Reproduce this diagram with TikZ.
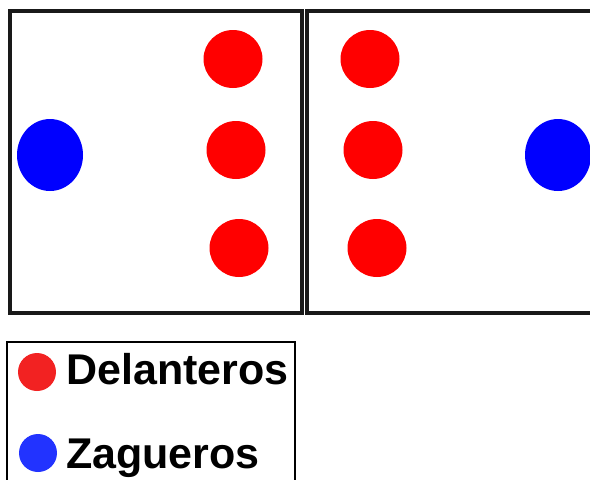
\documentclass[tikz,border=0pt]{standalone}
\usepackage{fontspec}
\setmainfont{Liberation Sans}
\usetikzlibrary{shapes.geometric}
\begin{document}
\begin{tikzpicture}[x=1pt,y=-1pt,
  field/.style={draw=black!90,line width=3.2pt,fill=white},
  fwd/.style={ellipse,fill=red,minimum width=59pt,minimum height=58pt,inner sep=0pt},
  back/.style={ellipse,fill=blue,minimum width=66pt,minimum height=72pt,inner sep=0pt},
  legdot/.style={circle,minimum size=38pt,inner sep=0pt},
  legtxt/.style={anchor=base west,inner sep=0pt,font=\bfseries\fontsize{43pt}{43pt}\selectfont}
]
\useasboundingbox (0,0) rectangle (590,480);
\begin{scope}
\clip (0,0) rectangle (590,480);
\fill[white] (0,0) rectangle (590,480);
\draw[field] (10,11) rectangle (302,313);
\draw[field] (307,11) rectangle (600,313);
\node[fwd] (f1) at (233,59) {};
\node[fwd] (f2) at (236,150) {};
\node[fwd] (f3) at (239,248) {};
\node[back] (b1) at (50,155) {};
\node[fwd] (g1) at (370,59) {};
\node[fwd] (g2) at (373,150) {};
\node[fwd] (g3) at (377,248) {};
\node[back] (b2) at (558,155) {};
\draw[line width=2.2pt] (7,342) rectangle (295,500);
\node[legdot,fill={rgb,255:red,242;green,34;blue,34}] (ld) at (37,372) {};
\node[legdot,fill={rgb,255:red,34;green,51;blue,255}] (lz) at (38,453) {};
\node[legtxt] (td) at (66,384) {Delanteros};
\node[legtxt] (tz) at (66,468) {Zagueros};
\end{scope}
\end{tikzpicture}
\end{document}
